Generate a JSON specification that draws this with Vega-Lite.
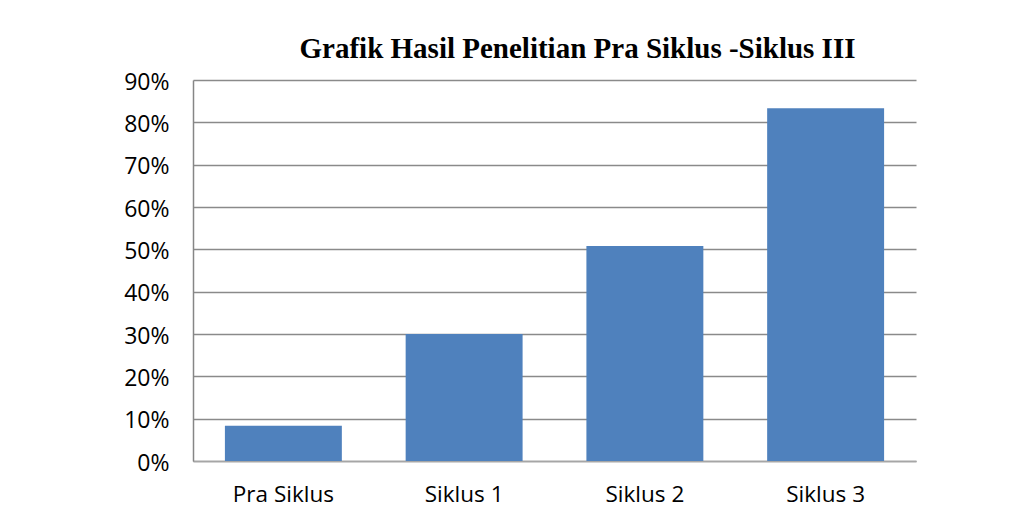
{
  "$schema": "https://vega.github.io/schema/vega-lite/v6.json",
  "autosize": {"type": "none"},
  "width": 723,
  "height": 381,
  "padding": {"left": 193, "top": 80, "right": 113, "bottom": 47},
  "background": "white",
  "title": {
    "text": "Grafik Hasil Penelitian Pra Siklus -Siklus III",
    "font": "Liberation Serif",
    "fontSize": 29,
    "fontWeight": "bold",
    "color": "black",
    "anchor": "middle",
    "dx": 23,
    "baseline": "alphabetic",
    "offset": -16
  },
  "config": {
    "view": {"stroke": null},
    "axis": {"labelFont": "Open Sans", "labelColor": "black"}
  },
  "data": {
    "values": [
      {"stage": "Pra Siklus", "value": 0.083},
      {"stage": "Siklus 1", "value": 0.30},
      {"stage": "Siklus 2", "value": 0.508},
      {"stage": "Siklus 3", "value": 0.833}
    ]
  },
  "mark": {"type": "bar", "color": "#4F81BD"},
  "encoding": {
    "x": {
      "field": "stage",
      "type": "nominal",
      "sort": null,
      "scale": {"paddingInner": 0.353, "paddingOuter": 0.1765},
      "axis": {
        "title": null,
        "labelAngle": 0,
        "labelFontSize": 22.5,
        "ticks": false,
        "domainColor": "#a6a6a6",
        "domainWidth": 1.5,
        "labelPadding": 22
      }
    },
    "y": {
      "field": "value",
      "type": "quantitative",
      "scale": {"domain": [0, 0.9]},
      "axis": {
        "title": null,
        "format": "%",
        "labelFontSize": 23,
        "values": [0, 0.1, 0.2, 0.3, 0.4, 0.5, 0.6, 0.7, 0.8, 0.9],
        "ticks": false,
        "labelPadding": 24,
        "labelBaseline": "middle",
        "labelOffset": 2,
        "domainColor": "#868686",
        "domainWidth": 1.5,
        "gridColor": "#8a8a8a",
        "gridWidth": 1.5
      }
    }
  }
}
